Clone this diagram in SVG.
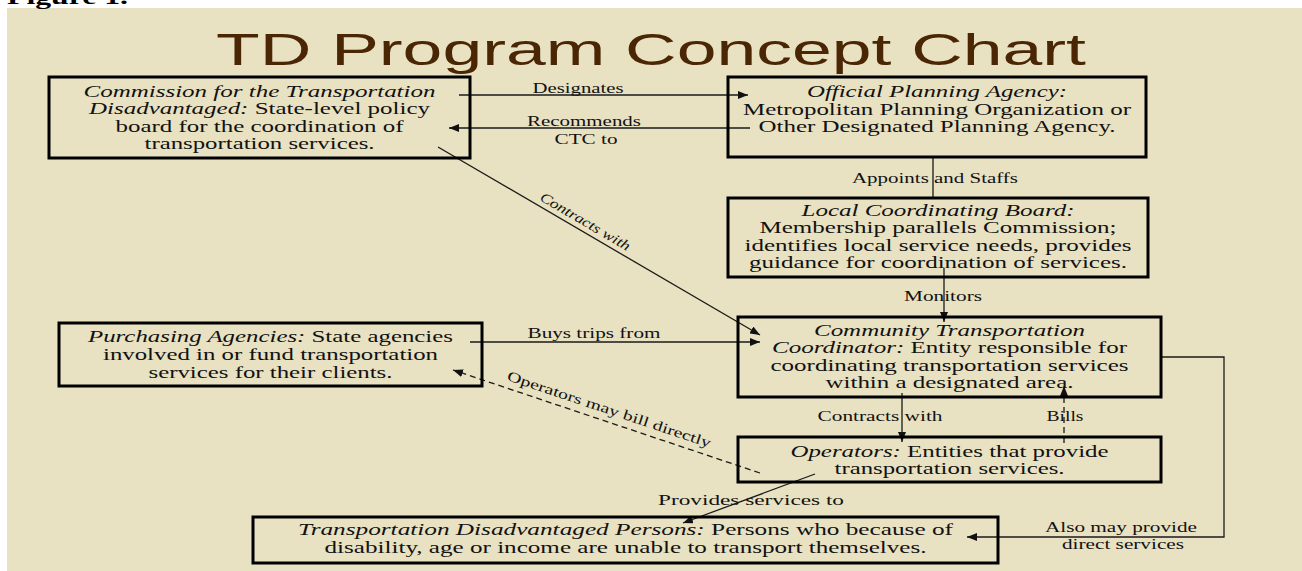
<svg xmlns="http://www.w3.org/2000/svg" width="1302" height="571" viewBox="0 0 1302 571">
<style>
.box{fill:none;stroke:#000;stroke-width:3}
.t{font-family:"Liberation Serif","Times New Roman",serif;font-size:16px;fill:#111;text-anchor:middle}
.i{font-style:italic}
.lbl{font-family:"Liberation Serif","Times New Roman",serif;font-size:14px;fill:#111;text-anchor:middle}
.ln{fill:none;stroke:#1a1a1a;stroke-width:1.3}
.dash{stroke-dasharray:6 4}
</style>
<defs>
<marker id="ah" viewBox="0 0 10 8" refX="10" refY="4" markerWidth="10" markerHeight="8" markerUnits="userSpaceOnUse" orient="auto"><path d="M0,0L10,4L0,8z" fill="#111"/></marker>
</defs>
<rect x="0" y="0" width="1302" height="571" fill="#fff"/>
<rect x="7" y="8" width="1295" height="563" fill="#e8e1c2"/>
<text x="7" y="4" font-family="Liberation Serif,serif" font-weight="bold" font-size="22" fill="#000" textLength="121" lengthAdjust="spacingAndGlyphs">Figure 1.</text>
<text x="651" y="65" font-family="Liberation Sans,Arial,sans-serif" font-size="45" fill="#4a2604" text-anchor="middle" textLength="870" lengthAdjust="spacingAndGlyphs">TD Program Concept Chart</text>

<g id="connectors">
<line class="ln" x1="459" y1="95" x2="748" y2="95" marker-end="url(#ah)"/>
<text class="lbl" x="578" y="93" textLength="91" lengthAdjust="spacingAndGlyphs">Designates</text>
<line class="ln" x1="750" y1="128" x2="449" y2="128" marker-end="url(#ah)"/>
<text class="lbl" x="584" y="126" textLength="114" lengthAdjust="spacingAndGlyphs">Recommends</text>
<text class="lbl" x="586" y="144" textLength="63" lengthAdjust="spacingAndGlyphs">CTC to</text>
<line class="ln" x1="933" y1="156" x2="933" y2="198"/>
<text class="lbl" x="935" y="183" textLength="166" lengthAdjust="spacingAndGlyphs">Appoints and Staffs</text>
<line class="ln" x1="944" y1="268" x2="944" y2="322" marker-end="url(#ah)"/>
<text class="lbl" x="943" y="301" textLength="78" lengthAdjust="spacingAndGlyphs">Monitors</text>
<line class="ln" x1="438" y1="147" x2="760" y2="335" marker-end="url(#ah)"/>
<text class="lbl i" transform="translate(585,222) rotate(30.3)" x="0" y="4" textLength="102" lengthAdjust="spacingAndGlyphs">Contracts with</text>
<line class="ln" x1="470" y1="342" x2="760" y2="342" marker-end="url(#ah)"/>
<text class="lbl" x="594" y="338" textLength="133" lengthAdjust="spacingAndGlyphs">Buys trips from</text>
<line class="ln dash" x1="760" y1="473" x2="453" y2="370" marker-end="url(#ah)"/>
<text class="lbl" transform="translate(609,410) rotate(18.5)" x="0" y="4" textLength="214" lengthAdjust="spacingAndGlyphs">Operators may bill directly</text>
<line class="ln" x1="902" y1="393" x2="902" y2="442" marker-end="url(#ah)"/>
<text class="lbl" x="880" y="421" textLength="125" lengthAdjust="spacingAndGlyphs">Contracts with</text>
<line class="ln dash" x1="1064" y1="443" x2="1064" y2="386" marker-end="url(#ah)"/>
<text class="lbl" x="1065" y="421" textLength="37" lengthAdjust="spacingAndGlyphs">Bills</text>
<polyline class="ln" points="1162,357 1224,357 1224,537 967,537" marker-end="url(#ah)"/>
<text class="lbl" x="1121" y="532" textLength="152" lengthAdjust="spacingAndGlyphs">Also may provide</text>
<text class="lbl" x="1123" y="549" textLength="122" lengthAdjust="spacingAndGlyphs">direct services</text>
<line class="ln" x1="815" y1="474" x2="683" y2="523" marker-end="url(#ah)"/>
<text class="lbl" x="751" y="505" textLength="186" lengthAdjust="spacingAndGlyphs">Provides services to</text>
</g>

<g id="commission">
<rect class="box" x="49" y="77" width="421" height="81"/>
<text class="t i" x="259.5" y="97" textLength="352" lengthAdjust="spacingAndGlyphs">Commission for the Transportation</text>
<text class="t" x="259.5" y="114" textLength="341" lengthAdjust="spacingAndGlyphs"><tspan class="i">Disadvantaged:</tspan> State-level policy</text>
<text class="t" x="259.5" y="132" textLength="288" lengthAdjust="spacingAndGlyphs">board for the coordination of</text>
<text class="t" x="259.5" y="149" textLength="230" lengthAdjust="spacingAndGlyphs">transportation services.</text>
</g>

<g id="planning-agency">
<rect class="box" x="728" y="77" width="418" height="80"/>
<text class="t i" x="937" y="97" textLength="260" lengthAdjust="spacingAndGlyphs">Official Planning Agency:</text>
<text class="t" x="937" y="115" textLength="388" lengthAdjust="spacingAndGlyphs">Metropolitan Planning Organization or</text>
<text class="t" x="937" y="132" textLength="357" lengthAdjust="spacingAndGlyphs">Other Designated Planning Agency.</text>
</g>

<g id="lcb">
<rect class="box" x="728" y="198" width="420" height="79"/>
<text class="t i" x="938" y="216" textLength="273" lengthAdjust="spacingAndGlyphs">Local Coordinating Board:</text>
<text class="t" x="938" y="233" textLength="357" lengthAdjust="spacingAndGlyphs">Membership parallels Commission;</text>
<text class="t" x="938" y="251" textLength="387" lengthAdjust="spacingAndGlyphs">identifies local service needs, provides</text>
<text class="t" x="938" y="268" textLength="378" lengthAdjust="spacingAndGlyphs">guidance for coordination of services.</text>
</g>

<g id="ctc">
<rect class="box" x="738" y="317" width="423" height="80"/>
<text class="t i" x="949.5" y="336" textLength="271" lengthAdjust="spacingAndGlyphs">Community Transportation</text>
<text class="t" x="949.5" y="353" textLength="355" lengthAdjust="spacingAndGlyphs"><tspan class="i">Coordinator:</tspan> Entity responsible for</text>
<text class="t" x="949.5" y="371" textLength="358" lengthAdjust="spacingAndGlyphs">coordinating transportation services</text>
<text class="t" x="949.5" y="388" textLength="248" lengthAdjust="spacingAndGlyphs">within a designated area.</text>
</g>

<g id="purchasing">
<rect class="box" x="59" y="323" width="423" height="63"/>
<text class="t" x="270.5" y="342" textLength="365" lengthAdjust="spacingAndGlyphs"><tspan class="i">Purchasing Agencies:</tspan> State agencies</text>
<text class="t" x="270.5" y="360" textLength="335" lengthAdjust="spacingAndGlyphs">involved in or fund transportation</text>
<text class="t" x="270.5" y="378" textLength="244" lengthAdjust="spacingAndGlyphs">services for their clients.</text>
</g>

<g id="operators">
<rect class="box" x="738" y="437" width="423" height="45"/>
<text class="t" x="949.5" y="457" textLength="318" lengthAdjust="spacingAndGlyphs"><tspan class="i">Operators:</tspan> Entities that provide</text>
<text class="t" x="949.5" y="474" textLength="230" lengthAdjust="spacingAndGlyphs">transportation services.</text>
</g>

<g id="td-persons">
<rect class="box" x="253" y="517" width="745" height="46"/>
<text class="t" x="625.5" y="535" textLength="655" lengthAdjust="spacingAndGlyphs"><tspan class="i">Transportation Disadvantaged Persons:</tspan> Persons who because of</text>
<text class="t" x="625.5" y="553" textLength="602" lengthAdjust="spacingAndGlyphs">disability, age or income are unable to transport themselves.</text>
</g>
</svg>
